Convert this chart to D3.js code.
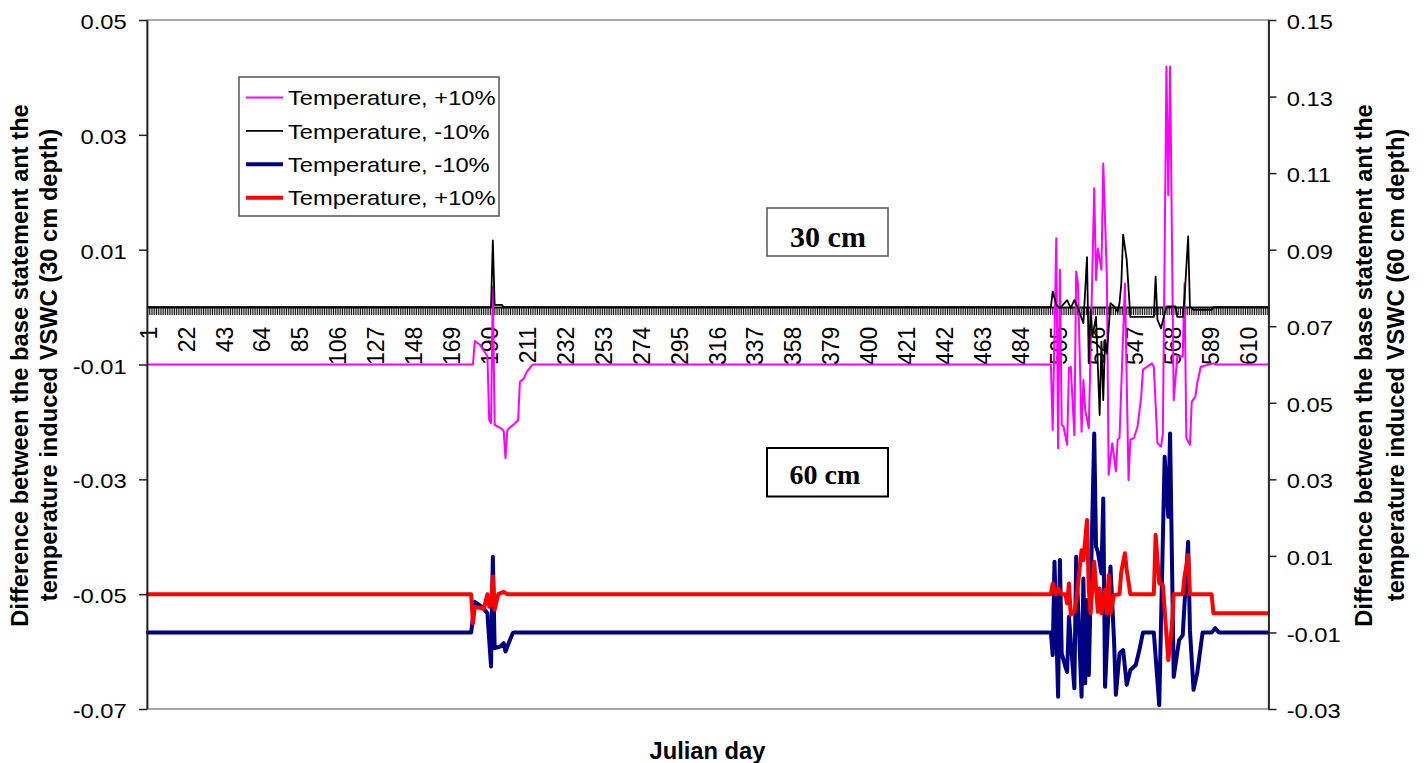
<!DOCTYPE html>
<html><head><meta charset="utf-8">
<script src="https://cdn.jsdelivr.net/npm/d3@7"></script>
<style>html,body{margin:0;padding:0;background:#fff;} svg{display:block;}</style>
</head><body><svg id="c" width="1424" height="763"></svg>
<script>
// ---------- DATA ----------
const firstDay = 1, lastDay = 621;
const days = d3.range(firstDay, lastDay + 1);            // categories (Julian day)
const xTickLabels = [1,22,43,64,85,106,127,148,169,190,211,232,253,274,295,316,337,358,379,400,421,442,463,484,505,526,547,568,589,610];
const leftTicks  = [0.05,0.03,0.01,-0.01,-0.03,-0.05,-0.07];
const rightTicks = [0.15,0.13,0.11,0.09,0.07,0.05,0.03,0.01,-0.01,-0.03];
const seriesNames = ["Temperature, +10%","Temperature, -10%","Temperature, -10%","Temperature, +10%"];

// 30 cm, Temperature +10% (left axis)  [day, value]
const magenta30 = [[1,-0.0100],[181,-0.0100],[182,-0.0059],[185,-0.0066],[188,-0.0081],[189,-0.0085],[190,-0.0197],[191,-0.0202],[192,0.0035],[193,-0.0205],[197,-0.0212],[198,-0.0216],[199,-0.0263],[200,-0.0215],[201,-0.0211],[204,-0.0203],[206,-0.0197],[207,-0.0130],[209,-0.0125],[211,-0.0112],[213,-0.0104],[214,-0.0100],
[501,-0.0100],[502,-0.0214],[504,0.0120],[505,-0.0246],[506,0.0065],[507,-0.0205],[508,-0.0208],[510,-0.0240],[511,-0.0106],[512,-0.0104],[514,-0.0223],[515,0.0062],[516,0.0041],[518,-0.0217],[519,-0.0127],[520,-0.0179],[522,-0.0211],[525,0.0207],[526,0.0047],[527,0.0102],[529,0.0065],[530,0.0250],[532,0.0053],[533,-0.0292],[535,-0.0237],[537,-0.0286],[538,-0.0231],[539,-0.0228],[542,0.0041],[544,-0.0301],[545,-0.0231],[547,-0.0228],[549,-0.0208],[551,-0.0156],[552,-0.0109],[557,-0.0098],[558,-0.0104],[560,-0.0237],[562,-0.0243],[563,-0.0220],[565,0.0419],[566,0.0195],[567,0.0419],[569,-0.0162],[571,-0.0086],[574,-0.0086],[575,0.0041],[576,-0.0228],[578,-0.0240],[579,-0.0165],[581,-0.0156],[582,-0.0133],[584,-0.0104],[591,-0.0098],[592,-0.0100],[621,-0.0100]];

// 30 cm, Temperature -10% (left axis)
const black30 = [[1,0],[191,0],[192,0.0116],[193,0.0004],[197,0.0004],[198,0],[501,0],[502,0.0027],[504,0.0004],[506,-0.0002],[510,0.0012],[512,-0.0002],[514,0.0012],[516,-0.0002],[517,-0.0011],[519,-0.0028],[521,0.0087],[522,-0.0098],[523,-0.0005],[524,-0.0051],[526,-0.0017],[528,-0.0188],[529,-0.0060],[530,-0.0162],[531,-0.0057],[532,-0.0081],[534,0.0007],[536,0.0001],[538,-0.0008],[539,0.0007],[540,0.0041],[541,0.0126],[543,0.0082],[545,-0.0017],[558,-0.0017],[559,0.0053],[560,-0.0022],[562,-0.0037],[564,-0.0011],[565,0.0001],[570,0.0001],[571,-0.0017],[574,-0.0017],[575,0.0015],[577,0.0123],[578,0.0001],[580,-0.0005],[590,-0.0005],[591,0],[621,0]];

// 60 cm, Temperature -10% (right axis)
const navy60 = [[1,-0.0100],[180,-0.0100],[182,-0.0020],[186,-0.0033],[189,-0.0050],[191,-0.0189],[192,0.0098],[193,-0.0141],[196,-0.0137],[198,-0.0128],[199,-0.0150],[201,-0.0125],[203,-0.0102],[204,-0.0100],
[501,-0.0100],[502,-0.0159],[503,0.0085],[505,-0.0268],[506,0.0089],[507,-0.0155],[509,-0.0189],[510,-0.0203],[511,-0.0059],[514,-0.0246],[515,0.0098],[518,-0.0268],[519,0.0041],[520,-0.0233],[521,-0.0015],[522,-0.0211],[525,0.0420],[526,0.0124],[527,0.0111],[529,0.0054],[530,0.0250],[531,-0.0242],[534,0.0072],[536,-0.0124],[537,-0.0263],[539,-0.0155],[541,-0.0146],[543,-0.0237],[545,-0.0198],[548,-0.0185],[550,-0.0146],[552,-0.0100],[558,-0.0100],[561,-0.0290],[564,0.0359],[566,0.0202],[567,0.0420],[569,-0.0216],[572,-0.0120],[574,-0.0107],[577,0.0137],[578,-0.0094],[580,-0.0250],[582,-0.0207],[585,-0.0100],[590,-0.0100],[592,-0.0089],[594,-0.0100],[621,-0.0100]];

// 60 cm, Temperature +10% (right axis)
const red60 = [[1,0],[180,0],[181,-0.0076],[182,-0.0033],[187,-0.0038],[189,0],[190,-0.0033],[191,-0.0030],[192,0.0046],[193,-0.0041],[195,0],[198,0.0006],[200,0],
[501,0],[502,0.0028],[504,0],[505,0.0015],[507,0],[509,0],[510,-0.0024],[511,0.0028],[512,-0.0054],[514,-0.0046],[515,-0.0020],[518,0.0115],[519,0.0089],[521,0.0194],[522,0.0011],[523,-0.0050],[525,0.0085],[527,-0.0046],[528,0.0015],[529,-0.0050],[531,0.0011],[532,-0.0050],[533,0.0050],[534,-0.0050],[536,-0.0002],[539,0],[540,0.0059],[542,0.0107],[543,0.0063],[545,0],[558,0],[559,0.0155],[561,0.0028],[563,0.0024],[566,-0.0172],[568,-0.0085],[569,0],[574,0],[575,0.0046],[577,0.0102],[578,0],[590,0],[591,-0.0050],[621,-0.0050]];

// ---------- LAYOUT ----------
const L = 147, R = 1268.5, T = 20, B = 709;
const SANS = "'Liberation Sans', Arial, sans-serif";
const SERIF = "'Liberation Serif', 'Times New Roman', serif";
const svg = d3.select('#c');

const x  = d3.scaleLinear().domain([firstDay - 0.5, lastDay + 0.5]).range([L, R]);
const yL = d3.scaleLinear().domain([-0.07, 0.05]).range([B, T]);
const yR = d3.scaleLinear().domain([-0.03, 0.15]).range([B, T]);

// plot area border
svg.append('rect').attr('x', L).attr('y', T).attr('width', R - L).attr('height', B - T)
  .attr('fill', 'none').attr('stroke', '#8c8c8c').attr('stroke-width', 1.5);

// x axis tick marks at every category boundary
const boundaries = days.map(d => d - 0.5).concat([lastDay + 0.5]);
const gXt = svg.append('g').attr('transform', `translate(0,${yL(0)})`)
  .call(d3.axisBottom(x).tickValues(boundaries).tickSize(8).tickSizeOuter(0).tickFormat(''));
gXt.selectAll('.tick line').attr('stroke', '#111').attr('stroke-width', 1);
gXt.select('.domain').attr('stroke', '#111').attr('stroke-width', 2);

// x axis labels
const gXl = svg.append('g').attr('transform', `translate(0,${yL(0)})`)
  .call(d3.axisBottom(x).tickValues(xTickLabels).tickSize(0).tickFormat(d => String(d)));
gXl.select('.domain').remove();
gXl.selectAll('text').attr('transform', 'rotate(-90)').attr('x', -19.5).attr('y', 0)
  .attr('dy', '0.36em').attr('text-anchor', 'end')
  .attr('font-size', 23).attr('font-family', SANS).attr('fill', '#000');

// series
const lineL = d3.line().x(d => x(d[0])).y(d => yL(d[1]));
const lineR = d3.line().x(d => x(d[0])).y(d => yR(d[1]));
const series = [
  {data: magenta30, gen: lineL, color: '#ff00ff', w: 2},
  {data: black30,   gen: lineL, color: '#000000', w: 1.8},
  {data: navy60,    gen: lineR, color: '#000080', w: 4},
  {data: red60,     gen: lineR, color: '#ff0000', w: 4}
];
series.forEach(s => {
  svg.append('path').attr('d', s.gen(s.data)).attr('fill', 'none')
    .attr('stroke', s.color).attr('stroke-width', s.w)
    .attr('stroke-linejoin', 'round').attr('stroke-linecap', 'round');
});

// left axis
const SX = 1.13;
const gL = svg.append('g').attr('transform', `translate(${L},0)`)
  .call(d3.axisLeft(yL).tickValues(leftTicks).tickSize(8).tickSizeOuter(0).tickFormat(d => d.toFixed(2)));
gL.select('.domain').attr('stroke', '#222').attr('stroke-width', 1.8);
gL.selectAll('.tick line').attr('stroke', '#222').attr('stroke-width', 1.5);
gL.selectAll('text').attr('font-size', 21).attr('font-family', SANS).attr('fill', '#000')
  .attr('text-anchor', 'end').attr('x', -20.3 / SX).attr('y', 8.6).attr('dy', 0)
  .attr('transform', `scale(${SX},1)`);

// right axis
const gR = svg.append('g').attr('transform', `translate(${R},0)`)
  .call(d3.axisRight(yR).tickValues(rightTicks).tickSize(8).tickSizeOuter(0).tickFormat(d => d.toFixed(2)));
gR.select('.domain').attr('stroke', '#222').attr('stroke-width', 1.8);
gR.selectAll('.tick line').attr('stroke', '#222').attr('stroke-width', 1.5);
gR.selectAll('text').attr('font-size', 21).attr('font-family', SANS).attr('fill', '#000')
  .attr('text-anchor', 'start').attr('x', 18.2 / SX).attr('y', 8.6).attr('dy', 0)
  .attr('transform', `scale(${SX},1)`);

// legend
const lg = svg.append('g');
lg.append('rect').attr('x', 239).attr('y', 77).attr('width', 260).attr('height', 139)
  .attr('fill', '#fff').attr('stroke', '#555').attr('stroke-width', 1.5);
series.forEach((s, i) => {
  const yy = 97.5 + i * 33.4;
  lg.append('line').attr('x1', 246).attr('x2', 283).attr('y1', yy).attr('y2', yy)
    .attr('stroke', s.color).attr('stroke-width', s.w);
  lg.append('text').attr('transform', `translate(288,${yy + 7.6}) scale(${SX},1)`)
    .attr('font-size', 21).attr('font-family', SANS).attr('fill', '#000').text(seriesNames[i]);
});

// depth boxes
svg.append('rect').attr('x', 767).attr('y', 208).attr('width', 121).attr('height', 48)
  .attr('fill', '#fff').attr('stroke', '#555').attr('stroke-width', 1.5);
svg.append('text').attr('x', 828).attr('y', 246.5).attr('text-anchor', 'middle')
  .attr('font-family', SERIF).attr('font-weight', 'bold').attr('font-size', 30).text('30 cm');
svg.append('rect').attr('x', 767).attr('y', 448).attr('width', 121).attr('height', 48.5)
  .attr('fill', '#fff').attr('stroke', '#000').attr('stroke-width', 2);
svg.append('text').attr('x', 825).attr('y', 484).attr('text-anchor', 'middle')
  .attr('font-family', SERIF).attr('font-weight', 'bold').attr('font-size', 28).text('60 cm');

// axis titles
const titleStyle = t => t.attr('font-family', SANS).attr('font-weight', 'bold').attr('font-size', 23.7)
  .attr('text-anchor', 'middle').attr('fill', '#000');
svg.append('text').attr('transform', 'translate(27.5,365.5) rotate(-90)').call(titleStyle)
  .text('Difference between the base statement ant the');
svg.append('text').attr('transform', 'translate(57,365) rotate(-90)').call(titleStyle)
  .text('temperature induced VSWC (30 cm depth)');
svg.append('text').attr('transform', 'translate(1371.5,365.5) rotate(-90)').call(titleStyle)
  .text('Difference between the base statement ant the');
svg.append('text').attr('transform', 'translate(1404,365) rotate(-90)').call(titleStyle)
  .text('temperature induced VSWC (60 cm depth)');
svg.append('text').attr('x', 707.5).attr('y', 759).call(titleStyle).text('Julian day');
</script></body></html>
